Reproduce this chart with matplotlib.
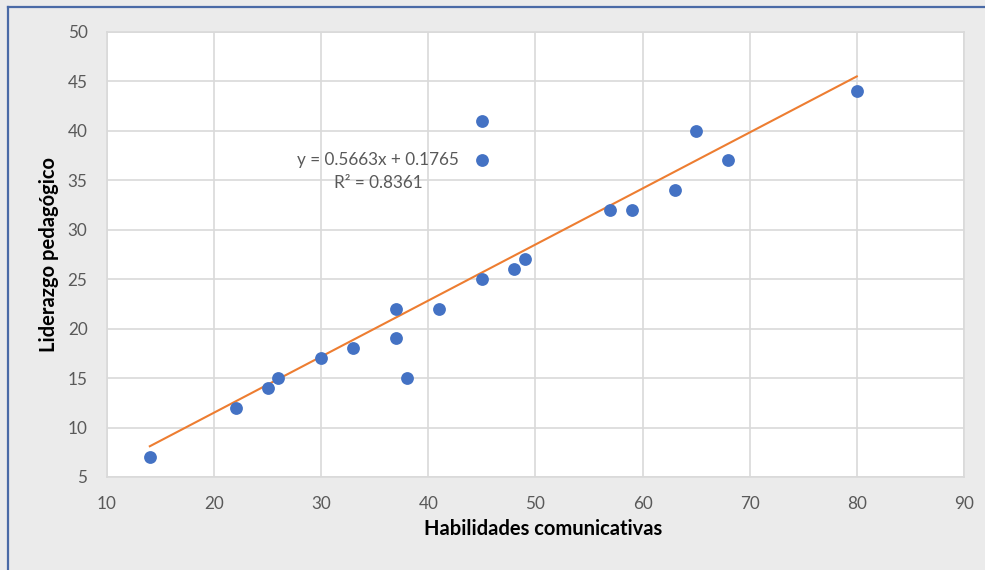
import numpy as np
import matplotlib.pyplot as plt
from matplotlib.lines import Line2D

plt.rcParams['font.family'] = ['Lato', 'DejaVu Sans']

# data
habilidades = [14, 22, 25, 26, 30, 33, 37, 37, 38, 41, 45, 45, 45, 48, 49, 57, 59, 63, 65, 68, 80]
liderazgo = [7, 12, 14, 15, 17, 18, 22, 19, 15, 22, 41, 37, 25, 26, 27, 32, 32, 34, 40, 37, 44]
slope, intercept, r2 = 0.5663, 0.1765, 0.8361

x_ticks = [10, 20, 30, 40, 50, 60, 70, 80, 90]
y_ticks = [5, 10, 15, 20, 25, 30, 35, 40, 45, 50]

bg = '#ebebeb'
grid_c = '#d9d9d9'
txt_c = '#595959'

fig = plt.figure(figsize=(9.85, 5.7), dpi=100, facecolor=bg)
ax = fig.add_axes([0.1086, 0.1632, 0.87, 0.7812])
ax.set_facecolor('white')

# trendline from the printed equation
xs = np.array([min(habilidades), max(habilidades)])
ax.plot(xs, slope * xs + intercept, color='#ED7D31', lw=1.5, zorder=2)
ax.scatter(habilidades, liderazgo, s=85, color='#4472C4', zorder=3, linewidths=0)

ax.set_xlim(10, 90)
ax.set_ylim(5, 50)
ax.set_xticks(x_ticks)
ax.set_yticks(y_ticks)
ax.tick_params(length=0, labelsize=12.3, labelcolor=txt_c, pad=14)
ax.grid(color=grid_c, lw=1.2)
ax.set_axisbelow(True)
for sp in ax.spines.values():
    sp.set_color(grid_c)
    sp.set_linewidth(1.2)

ax.set_xlabel('Habilidades comunicativas', fontsize=14.5, fontweight='bold', labelpad=5)
ax.xaxis.label.set_x(0.509)
ax.set_ylabel('Liderazgo pedagógico', fontsize=14.5, fontweight='bold', labelpad=6)

ax.text(35.3, 37.05, f'y = {slope}x + {intercept}', ha='center', va='center',
        fontsize=12.3, color=txt_c)
ax.text(35.3, 34.7, f'R² = {r2}', ha='center', va='center', fontsize=12.3, color=txt_c)

# blue frame edges of the screenshot
fig.add_artist(Line2D([0.0081, 1.0], [0.9877, 0.9877], color='#4a6aa6', lw=1.6,
                      transform=fig.transFigure))
fig.add_artist(Line2D([0.0081, 0.0081], [0.0, 0.9877], color='#4a6aa6', lw=1.6,
                      transform=fig.transFigure))

fig.savefig('out.png', dpi=100, facecolor=bg)
